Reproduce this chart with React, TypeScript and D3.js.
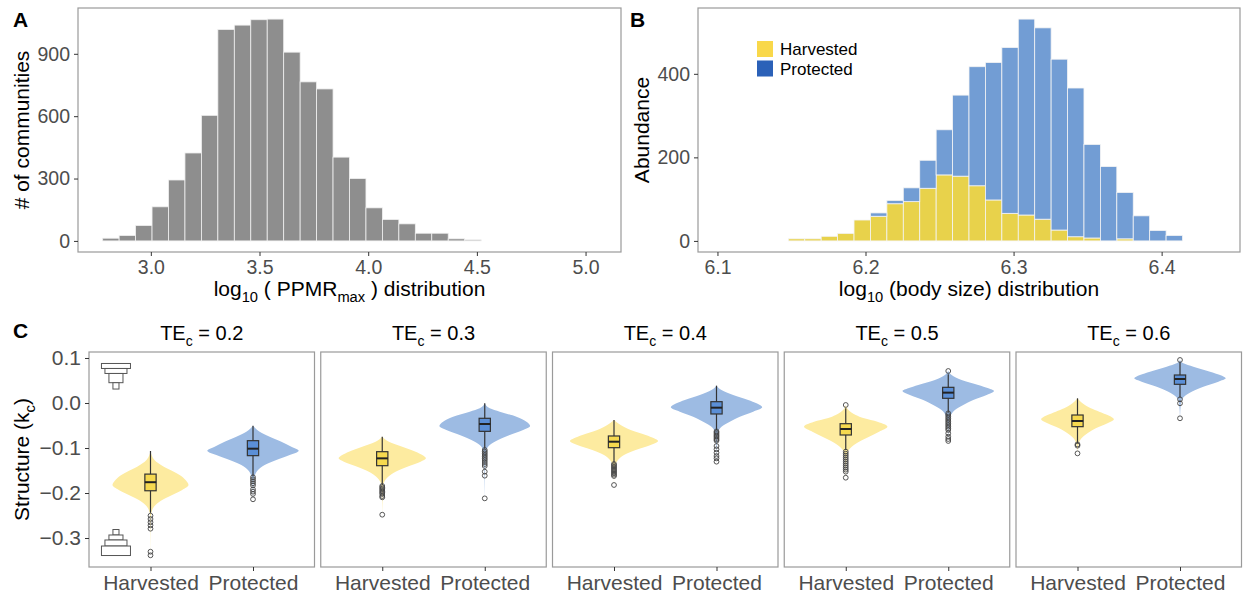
import React, { useEffect, useRef } from 'react';
import * as d3 from 'd3';

// ---- Panel A: histogram of log10(PPMRmax), 30 bins ----
const ppmrStart = 2.7785;
const ppmrBinWidth = 0.0757;
const ppmrCounts = [13, 26, 74, 164, 293, 423, 604, 1017, 1038, 1064, 1067, 908, 765, 731, 403,
  300, 159, 103, 82, 37, 37, 10, 5, 0, 0, 0, 0, 0, 0, 0];
const ppmrXTicks = [3.0, 3.5, 4.0, 4.5, 5.0];
const ppmrYTicks = [0, 300, 600, 900];

// ---- Panel B: body size histogram, stacked ----
const sizeStart = 6.1035;
const sizeBinWidth = 0.011093;
const harvestedCounts = [0, 0, 0, 0, 5, 5, 11, 18, 50, 59, 89, 94, 126, 158, 155, 132, 98, 66, 62, 52,
  26, 10, 7, 0, 5, 0, 0, 0, 0, 0];
const protectedCounts = [0, 0, 0, 0, 0, 0, 0, 0, 0, 8, 8, 33, 67, 108, 194, 285, 329, 397, 469, 458,
  409, 356, 224, 178, 111, 60, 25, 13, 0, 0];
const sizeXTicks = [6.1, 6.2, 6.3, 6.4];
const sizeYTicks = [0, 200, 400];
const groups = ['Harvested', 'Protected'];

// ---- Panel C: structure by TEc ----
const teLevels = ['0.2', '0.3', '0.4', '0.5', '0.6'];
const structureYTicks = [0.1, 0.0, -0.1, -0.2, -0.3];
const structureDomain = [-0.3644, 0.1133];

// [lower whisker, q1, median, q3, upper whisker]
const harvestedBoxes = [
  [-0.244, -0.195, -0.176, -0.158, -0.1067],
  [-0.182, -0.1393, -0.123, -0.1082, -0.0748],
  [-0.1326, -0.0993, -0.086, -0.0733, -0.0378],
  [-0.1044, -0.0711, -0.0578, -0.046, -0.0119],
  [-0.0896, -0.0526, -0.04, -0.0267, 0.0104],
];
const protectedBoxes = [
  [-0.162, -0.117, -0.1015, -0.0837, -0.0504],
  [-0.1015, -0.063, -0.0467, -0.034, -0.0007],
  [-0.06, -0.0244, -0.0104, 0.0029, 0.0385],
  [-0.0207, 0.0104, 0.023, 0.0348, 0.0637],
  [0.0118, 0.0415, 0.0533, 0.0622, 0.0904],
];

const harvestedOutliers = [
  [-0.2504, -0.2578, -0.2651, -0.2718, -0.2793, -0.3304, -0.3384],
  [-0.1844, -0.1874, -0.1904, -0.1933, -0.1963, -0.1993, -0.2022, -0.2067, -0.2096, -0.2482],
  [-0.1356, -0.1385, -0.1415, -0.1444, -0.1474, -0.1504, -0.1533, -0.1563, -0.1593, -0.1622, -0.1822],
  [-0.0044, -0.1081, -0.1126, -0.117, -0.1215, -0.1259, -0.1304, -0.1348, -0.1393, -0.1437, -0.1481, -0.1526, -0.166],
  [-0.0919, -0.0948, -0.1119],
];
const protectedOutliers = [
  [-0.165, -0.1696, -0.174, -0.1785, -0.183, -0.192, -0.197, -0.202, -0.214],
  [-0.1044, -0.1082, -0.1118, -0.1156, -0.1193, -0.123, -0.1267, -0.1311, -0.1356, -0.14, -0.1526, -0.1615, -0.2119],
  [-0.063, -0.066, -0.0689, -0.0719, -0.0748, -0.0778, -0.0807, -0.0837, -0.0956, -0.103, -0.1104, -0.1178, -0.123, -0.1304],
  [0.0711, -0.023, -0.0267, -0.0304, -0.0341, -0.0378, -0.0415, -0.0452, -0.0489, -0.0526, -0.0563, -0.06, -0.0674, -0.0748, -0.08, -0.0844],
  [0.0956, 0.0082, -0.0007, -0.034],
];

// violin outlines: [value, density]
const harvestedViolins = [
  [[-0.1067, 0], [-0.1267, 12], [-0.1415, 40], [-0.1526, 70], [-0.1637, 95], [-0.1711, 105], [-0.1822, 114], [-0.1933, 95], [-0.2044, 65], [-0.2156, 35], [-0.2267, 15], [-0.2378, 5], [-0.2526, 1], [-0.3378, 0]],
  [[-0.0748, 0], [-0.0859, 20], [-0.097, 60], [-0.1081, 100], [-0.1156, 120], [-0.123, 131], [-0.1304, 115], [-0.1415, 75], [-0.1526, 40], [-0.1637, 18], [-0.1748, 6], [-0.1859, 2], [-0.2489, 0]],
  [[-0.0378, 0], [-0.0489, 20], [-0.06, 50], [-0.0711, 95], [-0.0785, 120], [-0.0844, 132], [-0.0933, 110], [-0.1044, 65], [-0.1156, 30], [-0.1267, 12], [-0.1378, 4], [-0.1489, 1], [-0.1822, 0]],
  [[-0.0044, 0], [-0.0156, 8], [-0.0267, 30], [-0.0341, 55], [-0.0415, 95], [-0.0526, 125], [-0.0637, 100], [-0.0748, 70], [-0.0859, 40], [-0.097, 18], [-0.1081, 6], [-0.123, 2], [-0.1674, 0]],
  [[0.0104, 0], [-0.0007, 15], [-0.0119, 40], [-0.0193, 65], [-0.0267, 90], [-0.0363, 109], [-0.0452, 90], [-0.0563, 55], [-0.0674, 30], [-0.0785, 12], [-0.0896, 4], [-0.1007, 1], [-0.1119, 0]],
];
const protectedViolins = [
  [[-0.0504, 0], [-0.0637, 20], [-0.0748, 50], [-0.0859, 85], [-0.097, 115], [-0.1059, 137], [-0.1156, 110], [-0.1267, 70], [-0.1378, 35], [-0.1489, 15], [-0.16, 6], [-0.1711, 2], [-0.2156, 0]],
  [[-0.0007, 0], [-0.0119, 15], [-0.0193, 45], [-0.0304, 95], [-0.0415, 125], [-0.0511, 136], [-0.06, 115], [-0.0711, 75], [-0.0822, 40], [-0.0933, 15], [-0.1044, 5], [-0.1193, 2], [-0.2119, 0]],
  [[0.0385, 0], [0.0289, 15], [0.0178, 50], [0.0067, 95], [-0.0007, 120], [-0.0096, 137], [-0.0193, 110], [-0.0304, 70], [-0.0415, 40], [-0.0526, 15], [-0.0637, 5], [-0.0748, 2], [-0.1304, 0]],
  [[0.0711, 0], [0.0622, 10], [0.0511, 40], [0.04, 90], [0.0326, 120], [0.0267, 137], [0.0178, 115], [0.0067, 75], [-0.0044, 45], [-0.0156, 20], [-0.0267, 8], [-0.0415, 2], [-0.0844, 0]],
  [[0.0956, 0], [0.0882, 10], [0.0807, 40], [0.0696, 90], [0.0622, 120], [0.0548, 137], [0.0474, 115], [0.0363, 70], [0.0252, 35], [0.0141, 12], [0.003, 3], [-0.034, 0]],
];

// stacked-rectangle glyphs in the first facet: [top, bottom, width in x units]
const glyphX = 0.663;
const glyphTop = [[0.0878, 0.0767, 0.283], [0.0767, 0.0656, 0.215], [0.0656, 0.0451, 0.137], [0.0451, 0.031, 0.059]];
const glyphBottom = [[-0.2811, -0.2933, 0.059], [-0.2933, -0.3044, 0.137], [-0.3044, -0.3178, 0.215], [-0.3178, -0.3389, 0.283]];

const FONT = '"Liberation Sans", Arial, Helvetica, sans-serif';
const TICK_TEXT = '#4d4d4d';
const BORDER = '#9a9a9a';

const expand = (a: number, b: number): [number, number] => [a - 0.05 * (b - a), b + 0.05 * (b - a)];

function subText(sel: any, parts: [string, boolean][], size: number) {
  parts.forEach(([t, sub], i) => {
    const prevSub = i > 0 && parts[i - 1][1];
    const ts = sel.append('tspan').text(t);
    if (sub) ts.attr('font-size', size * 0.7).attr('dy', size * 0.3);
    else if (prevSub) ts.attr('dy', -size * 0.3);
  });
}

function styleAxis(g: any, fontSize: number) {
  g.select('.domain').remove();
  g.selectAll('.tick line').attr('stroke', '#333').attr('stroke-width', 1);
  g.selectAll('.tick text').attr('fill', TICK_TEXT).attr('font-size', fontSize).attr('font-family', FONT);
}

const App = () => {
  const svgRef = useRef<SVGSVGElement>(null);

  useEffect(() => {
    document.body.style.margin = '0';
    const svg = d3.select(svgRef.current);
    svg.selectAll('*').remove();
    svg.attr('font-family', FONT);

    // ---------- Panel A ----------
    const A = { l: 78, r: 621, t: 8, b: 252 };
    const ax = d3.scaleLinear()
      .domain(expand(ppmrStart, ppmrStart + ppmrCounts.length * ppmrBinWidth))
      .range([A.l, A.r]);
    const ay = d3.scaleLinear().domain(expand(0, d3.max(ppmrCounts)!)).range([A.b, A.t]);

    svg.append('g').selectAll('rect')
      .data(ppmrCounts.map((c, i) => ({ c, x: ppmrStart + i * ppmrBinWidth })).filter(d => d.c > 0))
      .join('rect')
      .attr('x', d => ax(d.x))
      .attr('width', ax(ppmrBinWidth) - ax(0))
      .attr('y', d => ay(d.c))
      .attr('height', d => ay(0) - ay(d.c))
      .attr('fill', '#8e8e8e')
      .attr('stroke', '#f0f0f0')
      .attr('stroke-width', 0.8);

    svg.append('rect').attr('x', A.l).attr('y', A.t).attr('width', A.r - A.l).attr('height', A.b - A.t)
      .attr('fill', 'none').attr('stroke', BORDER).attr('stroke-width', 1.2);

    svg.append('g').attr('transform', `translate(0,${A.b})`)
      .call(d3.axisBottom(ax).tickValues(ppmrXTicks).tickFormat(d3.format('.1f')).tickSize(4).tickPadding(4))
      .call(g => styleAxis(g, 19.5));
    svg.append('g').attr('transform', `translate(${A.l},0)`)
      .call(d3.axisLeft(ay).tickValues(ppmrYTicks).tickSize(4).tickPadding(4))
      .call(g => styleAxis(g, 19.5));

    const axTitle = svg.append('text').attr('x', (A.l + A.r) / 2).attr('y', 296)
      .attr('text-anchor', 'middle').attr('font-size', 21).attr('fill', '#000');
    subText(axTitle, [['log', false], ['10', true], [' ( PPMR', false], ['max', true], [' ) distribution', false]], 21);

    svg.append('text').attr('transform', `translate(29,${(A.t + A.b) / 2}) rotate(-90)`)
      .attr('text-anchor', 'middle').attr('font-size', 21).text('# of communities');

    svg.append('text').attr('x', 13).attr('y', 27).attr('font-size', 21).attr('font-weight', 'bold').text('A');

    // ---------- Panel B ----------
    const B = { l: 698, r: 1240, t: 8, b: 252 };
    const bins = harvestedCounts.map((h, i) => ({ x: sizeStart + i * sizeBinWidth, Harvested: h, Protected: protectedCounts[i] }));
    const stacked = d3.stack<any>().keys(groups)(bins);
    const bx = d3.scaleLinear().domain(expand(sizeStart, sizeStart + bins.length * sizeBinWidth)).range([B.l, B.r]);
    const by = d3.scaleLinear().domain(expand(0, d3.max(stacked[1], d => d[1])!)).range([B.b, B.t]);
    const barColor = d3.scaleOrdinal<string>().domain(groups).range(['#e8d24b', '#729dd4']);

    svg.append('g').selectAll('g')
      .data(stacked)
      .join('g')
      .attr('fill', d => barColor(d.key))
      .selectAll('rect')
      .data(d => d.filter(s => s[1] - s[0] > 0))
      .join('rect')
      .attr('x', d => bx(d.data.x))
      .attr('width', bx(sizeBinWidth) - bx(0))
      .attr('y', d => by(d[1]))
      .attr('height', d => by(d[0]) - by(d[1]))
      .attr('stroke', '#f4f4f4')
      .attr('stroke-width', 0.8);

    svg.append('rect').attr('x', B.l).attr('y', B.t).attr('width', B.r - B.l).attr('height', B.b - B.t)
      .attr('fill', 'none').attr('stroke', BORDER).attr('stroke-width', 1.2);

    svg.append('g').attr('transform', `translate(0,${B.b})`)
      .call(d3.axisBottom(bx).tickValues(sizeXTicks).tickFormat(d3.format('.1f')).tickSize(4).tickPadding(4))
      .call(g => styleAxis(g, 19.5));
    svg.append('g').attr('transform', `translate(${B.l},0)`)
      .call(d3.axisLeft(by).tickValues(sizeYTicks).tickSize(4).tickPadding(4))
      .call(g => styleAxis(g, 19.5));

    const bxTitle = svg.append('text').attr('x', (B.l + B.r) / 2).attr('y', 296)
      .attr('text-anchor', 'middle').attr('font-size', 21);
    subText(bxTitle, [['log', false], ['10', true], [' (body size) distribution', false]], 21);

    svg.append('text').attr('transform', `translate(649,${(B.t + B.b) / 2}) rotate(-90)`)
      .attr('text-anchor', 'middle').attr('font-size', 21).text('Abundance');
    svg.append('text').attr('x', 630).attr('y', 27).attr('font-size', 21).attr('font-weight', 'bold').text('B');

    const legendColor = d3.scaleOrdinal<string>().domain(groups).range(['#f9d84a', '#2b61b8']);
    const leg = svg.append('g').attr('transform', 'translate(757,41)');
    groups.forEach((gname, i) => {
      leg.append('rect').attr('x', 0).attr('y', i * 19.5).attr('width', 16).attr('height', 16)
        .attr('fill', legendColor(gname));
      leg.append('text').attr('x', 23).attr('y', i * 19.5 + 14).attr('font-size', 17).text(gname);
    });

    // ---------- Panel C ----------
    const C = { t: 352, b: 567, l0: 89, step: 231.75, w: 225.5 };
    const cy = d3.scaleLinear().domain(structureDomain).range([C.b, C.t]);
    const vw = d3.scaleLinear().domain([0, 137]).range([0, 45.7]);
    const violinFill = d3.scaleOrdinal<string>().domain(groups).range(['#fdeba0', '#9dbbe3']);
    const boxFill = d3.scaleOrdinal<string>().domain(groups).range(['#f6d94f', '#5b8fd7']);

    svg.append('text').attr('x', 13).attr('y', 338).attr('font-size', 21).attr('font-weight', 'bold').text('C');

    teLevels.forEach((te, fi) => {
      const left = C.l0 + fi * C.step;
      const cx = d3.scaleLinear().domain([0.4, 2.6]).range([left, left + C.w]);
      const fg = svg.append('g');

      const title = fg.append('text').attr('x', left + C.w / 2).attr('y', 340)
        .attr('text-anchor', 'middle').attr('font-size', 20);
      subText(title, [['TE', false], ['c', true], [` = ${te}`, false]], 20);

      groups.forEach((gname, gi) => {
        const x0 = cx(gi + 1);
        const violin = (gi === 0 ? harvestedViolins : protectedViolins)[fi] as [number, number][];
        const box = (gi === 0 ? harvestedBoxes : protectedBoxes)[fi];
        const outs = (gi === 0 ? harvestedOutliers : protectedOutliers)[fi];

        const area = d3.area<[number, number]>()
          .y(d => cy(d[0]))
          .x0(d => x0 - vw(d[1]))
          .x1(d => x0 + vw(d[1]))
          .curve(d3.curveMonotoneY);
        fg.append('path').attr('d', area(violin)).attr('fill', violinFill(gname));

        const bw = cx(0.11) - cx(0);
        fg.append('line').attr('x1', x0).attr('x2', x0).attr('y1', cy(box[0])).attr('y2', cy(box[4]))
          .attr('stroke', '#333').attr('stroke-width', 1.2);
        fg.append('rect').attr('x', x0 - bw / 2).attr('width', bw)
          .attr('y', cy(box[3])).attr('height', cy(box[1]) - cy(box[3]))
          .attr('fill', boxFill(gname)).attr('stroke', '#333').attr('stroke-width', 1.2);
        fg.append('line').attr('x1', x0 - bw / 2).attr('x2', x0 + bw / 2).attr('y1', cy(box[2])).attr('y2', cy(box[2]))
          .attr('stroke', '#222').attr('stroke-width', 2);

        fg.append('g').selectAll('circle')
          .data(outs)
          .join('circle')
          .attr('cx', x0)
          .attr('cy', d => cy(d))
          .attr('r', 2.4)
          .attr('fill', 'none')
          .attr('stroke', '#444')
          .attr('stroke-width', 0.9);
      });

      if (fi === 0) {
        [glyphTop, glyphBottom].forEach(glyph => {
          fg.append('g').selectAll('rect')
            .data(glyph)
            .join('rect')
            .attr('x', d => cx(glyphX - d[2] / 2))
            .attr('width', d => cx(d[2]) - cx(0))
            .attr('y', d => cy(d[0]))
            .attr('height', d => cy(d[1]) - cy(d[0]))
            .attr('fill', '#fff')
            .attr('stroke', '#555')
            .attr('stroke-width', 1);
        });
      }

      fg.append('rect').attr('x', left).attr('y', C.t).attr('width', C.w).attr('height', C.b - C.t)
        .attr('fill', 'none').attr('stroke', BORDER).attr('stroke-width', 1.2);

      fg.append('g').attr('transform', `translate(0,${C.b})`)
        .call(d3.axisBottom(cx).tickValues([1, 2]).tickFormat((d: any) => groups[d - 1]).tickSize(4).tickPadding(4))
        .call(g => styleAxis(g, 21));

      if (fi === 0) {
        fg.append('g').attr('transform', `translate(${left},0)`)
          .call(d3.axisLeft(cy).tickValues(structureYTicks).tickFormat(d3.format('.1f')).tickSize(4).tickPadding(4))
          .call(g => styleAxis(g, 21));
      }
    });

    const cyTitle = svg.append('text').attr('transform', `translate(29,${(C.t + C.b) / 2}) rotate(-90)`)
      .attr('text-anchor', 'middle').attr('font-size', 21);
    subText(cyTitle, [['Structure (k', false], ['c', true], [')', false]], 21);
  }, []);

  return <svg ref={svgRef} width={1243} height={594} style={{ display: 'block', background: '#fff' }} />;
};

export default App;
